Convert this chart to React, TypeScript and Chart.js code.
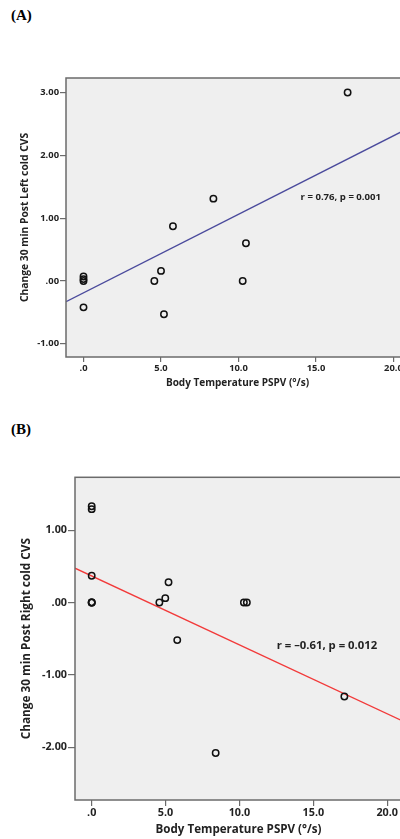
import React, { useEffect, useRef } from 'react';
import { Chart, registerables } from 'chart.js';

Chart.register(...registerables);

// ---------- shared ----------
const X_TICKS = [0, 5, 10, 15, 20];
const X_TICK_LABELS = ['.0', '5.0', '10.0', '15.0', '20.0'];
const X_TITLE = 'Body Temperature PSPV (°/s)';

// ---------- panel A ----------
const A_X = [0, 0, 0, 0, 4.57, 5.0, 5.19, 5.77, 8.38, 10.27, 10.48, 17.04];
const A_Y = [0.07, 0.03, 0.0, -0.42, 0.0, 0.16, -0.53, 0.87, 1.31, 0.0, 0.6, 3.0];
const A_FIT_X = [-1.13, 21];
const A_FIT_Y = [-0.33, 2.435];
const A_Y_TICKS = [-1, 0, 1, 2, 3];
const A_Y_TICK_LABELS = ['-1.00', '.00', '1.00', '2.00', '3.00'];
const A_Y_TITLE = 'Change 30 min Post Left cold CVS';
const A_NOTE = 'r = 0.76, p = 0.001';
const A_NOTE_AT = [16.6, 1.33];

// ---------- panel B ----------
const B_X = [0, 0, 0, 0, 0, 0, 4.58, 4.98, 5.2, 5.79, 8.39, 10.3, 10.5, 17.1];
const B_Y = [1.33, 1.29, 0.37, 0, 0, 0, 0, 0.06, 0.28, -0.52, -2.08, 0, 0, -1.3];
const B_FIT_X = [-1.13, 21];
const B_FIT_Y = [0.475, -1.634];
const B_Y_TICKS = [-2, -1, 0, 1];
const B_Y_TICK_LABELS = ['-2.00', '-1.00', '.00', '1.00'];
const B_Y_TITLE = 'Change 30 min Post Right cold CVS';
const B_NOTE = 'r = \u20130.61, p = 0.012';
const B_NOTE_AT = [15.92, -0.594];

const FONT = "'Open Sans', 'DejaVu Sans', sans-serif";

type PanelCfg = {
  xs: number[];
  ys: number[];
  fitX: number[];
  fitY: number[];
  lineColor: string;
  yTicks: number[];
  yTickLabels: string[];
  yTitle: string;
  note: string;
  noteAt: number[];
  xMin: number;
  xMax: number;
  yMin: number;
  yMax: number;
  padTop: number;
  yAxisWidth: number;
  xAxisHeight: number;
  tickFont: number;
  xTitleFont: number;
  yTitleFont: number;
  noteFont: number;
  yTitlePad: number;
  xTitlePad: number;
  yTickLen: number;
  xTickLen: number;
  xTickPad: number;
};

const frameAndNote = {
  id: 'frameAndNote',
  beforeDatasetsDraw(chart: any) {
    const { ctx, chartArea } = chart;
    ctx.save();
    ctx.fillStyle = '#efefef';
    ctx.fillRect(chartArea.left, chartArea.top, chartArea.right - chartArea.left, chartArea.bottom - chartArea.top);
    ctx.restore();
  },
  afterDatasetsDraw(chart: any) {
    const { ctx, chartArea } = chart;
    const o = chart.options.plugins.frameAndNote;
    ctx.save();
    ctx.strokeStyle = '#6b6b6b';
    ctx.lineWidth = 1.5;
    ctx.strokeRect(chartArea.left, chartArea.top, chartArea.right - chartArea.left, chartArea.bottom - chartArea.top);
    const x = chart.scales.x.getPixelForValue(o.at[0]);
    const y = chart.scales.y.getPixelForValue(o.at[1]);
    ctx.fillStyle = '#222';
    ctx.font = `bold ${o.size}px ${FONT}`;
    ctx.textAlign = 'center';
    ctx.textBaseline = 'middle';
    ctx.fillText(o.text, x, y);
    ctx.restore();
  },
};

function makeConfig(p: PanelCfg): any {
  const pts = p.xs.map((x, i) => ({ x, y: p.ys[i] }));
  const fit = p.fitX.map((x, i) => ({ x, y: p.fitY[i] }));
  return {
    type: 'scatter',
    data: {
      datasets: [
        {
          type: 'line',
          data: fit,
          borderColor: p.lineColor,
          borderWidth: 1.4,
          pointRadius: 0,
          pointHoverRadius: 0,
          fill: false,
          order: 2,
        },
        {
          data: pts,
          pointRadius: 3.2,
          pointHoverRadius: 3.2,
          pointBorderWidth: 1.5,
          borderColor: '#111',
          backgroundColor: 'rgba(0,0,0,0)',
          pointStyle: 'circle',
          order: 1,
        },
      ],
    },
    options: {
      responsive: false,
      animation: false,
      devicePixelRatio: 1,
      layout: { autoPadding: false, padding: { top: p.padTop, left: 0, right: 0, bottom: 0 } },
      plugins: {
        legend: { display: false },
        tooltip: { enabled: false },
        frameAndNote: { text: p.note, at: p.noteAt, size: p.noteFont },
      },
      scales: {
        x: {
          type: 'linear',
          position: 'bottom',
          min: p.xMin,
          max: p.xMax,
          afterBuildTicks: (s: any) => {
            s.ticks = X_TICKS.map((v) => ({ value: v }));
          },
          afterFit: (s: any) => {
            s.height = p.xAxisHeight;
            s.paddingLeft = 0;
            s.paddingRight = 0;
          },
          ticks: {
            autoSkip: false,
            maxRotation: 0,
            padding: p.xTickPad,
            color: '#222',
            font: { family: FONT, size: p.tickFont, weight: 'bold' },
            callback: (v: number) => X_TICK_LABELS[X_TICKS.indexOf(v)],
          },
          grid: { drawOnChartArea: false, drawTicks: true, tickLength: p.xTickLen, color: '#6b6b6b', lineWidth: 1.2 },
          border: { display: false },
          title: {
            display: true,
            text: X_TITLE,
            color: '#222',
            font: { family: FONT, size: p.xTitleFont, weight: 'bold' },
            padding: { top: 0, bottom: p.xTitlePad },
          },
        },
        y: {
          type: 'linear',
          position: 'left',
          min: p.yMin,
          max: p.yMax,
          afterBuildTicks: (s: any) => {
            s.ticks = p.yTicks.map((v) => ({ value: v }));
          },
          afterFit: (s: any) => {
            s.width = p.yAxisWidth;
            s.paddingTop = 0;
            s.paddingBottom = 0;
          },
          ticks: {
            autoSkip: false,
            padding: 1,
            color: '#222',
            font: { family: FONT, size: p.tickFont, weight: 'bold' },
            callback: (v: number) => p.yTickLabels[p.yTicks.indexOf(v)],
          },
          grid: { drawOnChartArea: false, drawTicks: true, tickLength: p.yTickLen, color: '#6b6b6b', lineWidth: 1.2 },
          border: { display: false },
          title: {
            display: true,
            text: p.yTitle,
            color: '#222',
            font: { family: FONT, size: p.yTitleFont, weight: 'bold' },
            padding: { top: p.yTitlePad, bottom: 0 },
          },
        },
      },
    },
    plugins: [frameAndNote],
  };
}

function Panel({ cfg, top, width, height }: { cfg: PanelCfg; top: number; width: number; height: number }) {
  const ref = useRef<HTMLCanvasElement | null>(null);
  useEffect(() => {
    if (!ref.current) return;
    const chart = new Chart(ref.current, makeConfig(cfg));
    return () => chart.destroy();
  }, []);
  return (
    <canvas
      ref={ref}
      width={width}
      height={height}
      style={{ position: 'absolute', left: 0, top, width, height }}
    />
  );
}

const panelA: PanelCfg = {
  xs: A_X,
  ys: A_Y,
  fitX: A_FIT_X,
  fitY: A_FIT_Y,
  lineColor: '#4a4a9c',
  yTicks: A_Y_TICKS,
  yTickLabels: A_Y_TICK_LABELS,
  yTitle: A_Y_TITLE,
  note: A_NOTE,
  noteAt: A_NOTE_AT,
  xMin: -1.13,
  xMax: 21,
  yMin: -1.21,
  yMax: 3.23,
  padTop: 18,
  yAxisWidth: 66,
  xAxisHeight: 43,
  tickFont: 9.4,
  xTitleFont: 10,
  yTitleFont: 10.3,
  noteFont: 9.6,
  yTitlePad: 18.8,
  xTitlePad: 11,
  yTickLen: 6,
  xTickLen: 5,
  xTickPad: 1,
};

const panelB: PanelCfg = {
  xs: B_X,
  ys: B_Y,
  fitX: B_FIT_X,
  fitY: B_FIT_Y,
  lineColor: '#f23a3a',
  yTicks: B_Y_TICKS,
  yTickLabels: B_Y_TICK_LABELS,
  yTitle: B_Y_TITLE,
  note: B_NOTE,
  noteAt: B_NOTE_AT,
  xMin: -1.13,
  xMax: 21,
  yMin: -2.73,
  yMax: 1.73,
  padTop: 17.3,
  yAxisWidth: 75,
  xAxisHeight: 39,
  tickFont: 10.8,
  xTitleFont: 11.6,
  yTitleFont: 11.8,
  noteFont: 11.3,
  yTitlePad: 19.8,
  xTitlePad: 2,
  yTickLen: 7,
  xTickLen: 6,
  xTickPad: 0,
};

const labelStyle: React.CSSProperties = {
  position: 'absolute',
  left: 11,
  fontFamily: "'Liberation Serif', 'Times New Roman', serif",
  fontWeight: 'bold',
  fontSize: 15,
  lineHeight: '16px',
  color: '#000',
};

export default function App() {
  return (
    <div
      style={{
        position: 'absolute',
        left: 0,
        top: 0,
        width: 400,
        height: 839,
        overflow: 'hidden',
        background: '#fff',
      }}
    >
      <div style={{ ...labelStyle, top: 7 }}>(A)</div>
      <Panel cfg={panelA} top={60} width={409} height={340} />
      <div style={{ ...labelStyle, top: 421 }}>(B)</div>
      <Panel cfg={panelB} top={460} width={402} height={379} />
    </div>
  );
}
